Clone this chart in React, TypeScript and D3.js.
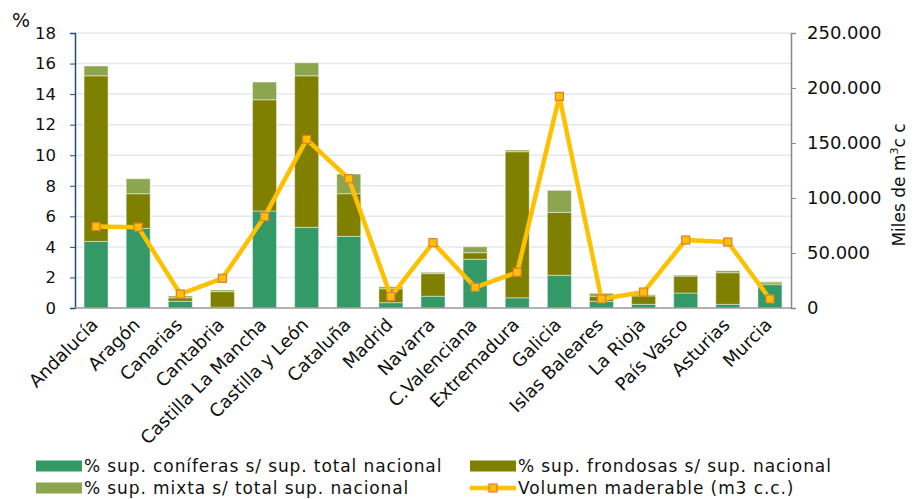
import { useEffect, useRef } from "react";
import * as d3 from "d3";

const regions = [
  "Andalucía", "Aragón", "Canarias", "Cantabria", "Castilla La Mancha", "Castilla y León",
  "Cataluña", "Madrid", "Navarra", "C.Valenciana", "Extremadura", "Galicia",
  "Islas Baleares", "La Rioja", "País Vasco", "Asturias", "Murcia",
];
const coniferas = [4.36, 5.21, 0.44, 0.05, 6.35, 5.28, 4.69, 0.35, 0.77, 3.19, 0.67, 2.14, 0.44, 0.24, 0.98, 0.24, 1.53];
const frondosas = [10.84, 2.27, 0.23, 1.02, 7.28, 9.92, 2.79, 0.91, 1.48, 0.43, 9.56, 4.12, 0.33, 0.55, 1.11, 2.07, 0.11];
const mixta = [0.64, 0.98, 0.12, 0.11, 1.16, 0.85, 1.29, 0.13, 0.09, 0.39, 0.11, 1.44, 0.19, 0.08, 0.07, 0.13, 0.08];
const volumen = [74000, 73500, 12700, 27000, 83000, 153300, 117500, 10300, 59400, 18800, 32500, 192400, 8200, 14500, 61800, 60000, 8200];
const leftTicks = [0, 2, 4, 6, 8, 10, 12, 14, 16, 18];
const rightTicks = [0, 50000, 100000, 150000, 200000, 250000];

const seriesNames = [
  "% sup. coníferas s/ sup. total nacional",
  "% sup. frondosas s/ sup. nacional",
  "% sup. mixta s/ total sup. nacional",
  "Volumen maderable (m3 c.c.)",
];
const colors = ["#339966", "#808000", "#8ca64f"];

export default function App() {
  const svgRef = useRef<SVGSVGElement>(null);

  useEffect(() => {
    if (!svgRef.current) return;
    const W = 917, H = 499;
    const left = 75, right = 791, top = 33, bottom = 308;
    const font = "DejaVu Sans, Verdana, sans-serif";

    const svg = d3.select(svgRef.current);
    svg.selectAll("*").remove();
    svg.attr("width", W).attr("height", H);

    const x = d3.scaleBand<string>().domain(regions).range([left, right])
      .paddingInner(0.43).paddingOuter(0.215);
    const y = d3.scaleLinear().domain([0, 18]).range([bottom, top]);
    const y2 = d3.scaleLinear().domain([0, 250000]).range([bottom, top]);

    // grid
    svg.append("g").selectAll("line")
      .data(leftTicks.filter(t => t > 0))
      .enter().append("line")
      .attr("x1", left).attr("x2", right)
      .attr("y1", d => y(d)).attr("y2", d => y(d))
      .attr("stroke", "#e4e9f0").attr("stroke-width", 1.5);

    // stacked bars
    const rows = regions.map((r, i) => ({ region: r, c: coniferas[i], f: frondosas[i], m: mixta[i] }));
    const stack = d3.stack<any>().keys(["c", "f", "m"])(rows);
    svg.append("g").selectAll("g")
      .data(stack)
      .enter().append("g")
      .attr("fill", (_, i) => colors[i])
      .selectAll("rect")
      .data(d => d)
      .enter().append("rect")
      .attr("x", d => x(d.data.region)!)
      .attr("width", x.bandwidth())
      .attr("y", d => y(d[1]))
      .attr("height", d => Math.max(0, y(d[0]) - y(d[1])))
      .attr("stroke", "#ffffff").attr("stroke-opacity", 0.45).attr("stroke-width", 1);

    // axes
    const gy = svg.append("g").attr("transform", `translate(${left},0)`)
      .call(d3.axisLeft(y).tickValues(leftTicks).tickSize(5).tickPadding(14));
    gy.select(".domain").attr("stroke", "#1f4e79").attr("stroke-width", 1.5);
    gy.selectAll("line").attr("stroke", "#1f4e79");
    gy.selectAll("text").attr("font-family", font).attr("font-size", 16.5).attr("fill", "#111");

    const gy2 = svg.append("g").attr("transform", `translate(${right},0)`)
      .call(d3.axisRight(y2).tickValues(rightTicks).tickSize(5).tickPadding(11)
        .tickFormat(d => d3.format(",")(d as number).replace(/,/g, ".")));
    gy2.select(".domain").attr("stroke", "#888").attr("stroke-width", 1.5);
    gy2.selectAll("line").attr("stroke", "#888");
    gy2.selectAll("text").attr("font-family", font).attr("font-size", 18).attr("fill", "#111");

    svg.append("line").attr("x1", left).attr("x2", right).attr("y1", bottom).attr("y2", bottom)
      .attr("stroke", "#999").attr("stroke-width", 1.5);

    // category labels
    svg.append("g").selectAll("text")
      .data(regions)
      .enter().append("text")
      .attr("transform", d => `translate(${x(d)! + x.bandwidth() / 2 + 3},${bottom + 18}) rotate(-45)`)
      .attr("text-anchor", "end")
      .attr("font-family", font).attr("font-size", 18).attr("fill", "#111")
      .text(d => d);

    // axis titles
    svg.append("text").attr("x", 12).attr("y", 27)
      .attr("font-family", font).attr("font-size", 19).attr("fill", "#111").text("%");
    const t = svg.append("text")
      .attr("transform", `translate(905,185) rotate(-90)`)
      .attr("text-anchor", "middle")
      .attr("font-family", font).attr("font-size", 17).attr("fill", "#111");
    t.append("tspan").text("Miles de m");
    t.append("tspan").attr("font-size", 11).attr("dy", -7).text("3");
    t.append("tspan").attr("dy", 7).text("c c");

    // line
    const line = d3.line<number>()
      .x((_, i) => x(regions[i])! + x.bandwidth() / 2)
      .y(d => y2(d));
    svg.append("path").datum(volumen)
      .attr("fill", "none").attr("stroke", "#ffc000").attr("stroke-width", 4.5)
      .attr("stroke-linejoin", "round")
      .attr("d", line);
    svg.append("g").selectAll("rect")
      .data(volumen)
      .enter().append("rect")
      .attr("x", (_, i) => x(regions[i])! + x.bandwidth() / 2 - 4)
      .attr("y", d => y2(d) - 4)
      .attr("width", 8).attr("height", 8)
      .attr("fill", "#ffc000").attr("stroke", "#e07b39").attr("stroke-width", 1.2);

    // legend
    const legendPos = [
      { x: 36, y: 466 }, { x: 470, y: 466 }, { x: 36, y: 488 }, { x: 470, y: 488 },
    ];
    const lg = svg.append("g").selectAll("g")
      .data(seriesNames)
      .enter().append("g")
      .attr("transform", (_, i) => `translate(${legendPos[i].x},${legendPos[i].y})`);
    lg.filter((_, i) => i < 3).append("rect")
      .attr("x", 0).attr("y", -5.5).attr("width", 46).attr("height", 11)
      .attr("fill", (_, i) => colors[i]);
    const last = lg.filter((_, i) => i === 3);
    last.append("line").attr("x1", 0).attr("x2", 46).attr("y1", 0).attr("y2", 0)
      .attr("stroke", "#ffc000").attr("stroke-width", 4.5);
    last.append("rect").attr("x", 19).attr("y", -4).attr("width", 8).attr("height", 8)
      .attr("fill", "#ffc000").attr("stroke", "#e07b39").attr("stroke-width", 1.2);
    lg.append("text")
      .attr("x", 48).attr("y", 0).attr("dy", "0.35em")
      .attr("font-family", font).attr("font-size", 17).attr("letter-spacing", 0.9)
      .attr("fill", "#111")
      .text(d => d);
  }, []);

  return (
    <div style={{ position: "absolute", left: 0, top: 0 }}>
      <svg ref={svgRef}></svg>
    </div>
  );
}
